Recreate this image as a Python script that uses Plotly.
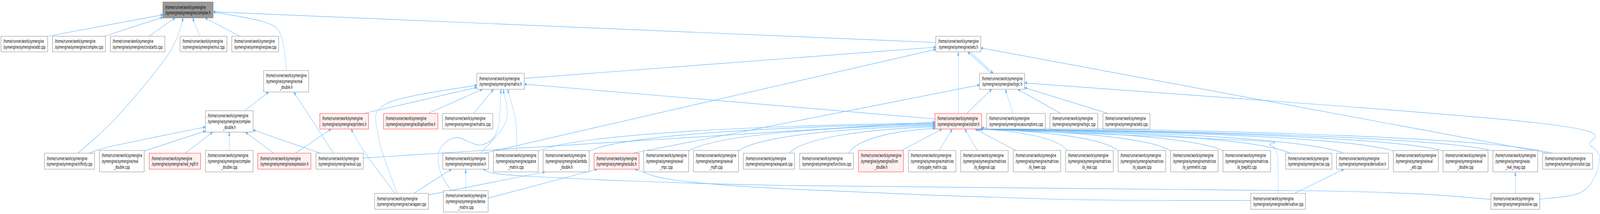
import plotly.graph_objects as go

W, H = 7889, 549
PREFIX = "/home/runner/work/symengine"

# ---------------- data: nodes (file names) ----------------
node_ids = [
    "complex_h", "add_cpp", "complex_cpp", "constants_cpp", "mul_cpp", "pow_cpp", "sets_h",
    "real_double_h", "matrix_h", "logic_h",
    "complex_double_h", "printers_h", "diophantine_h", "matrix_cpp", "visitor_h",
    "assumptions_cpp", "logic_cpp", "sets_cpp",
    "infinity_cpp", "real_double_cpp", "real_mpfr_h", "complex_double_cpp", "expression_h",
    "eval_cpp", "solve_h", "sparse_matrix_cpp", "lambda_double_h", "subs_h", "eval_mpc_cpp",
    "eval_mpfr_cpp", "expand_cpp", "functions_cpp", "llvm_double_h", "conjugate_matrix_cpp",
    "is_diagonal_cpp", "is_lower_cpp", "is_real_cpp", "is_square_cpp", "is_symmetric_cpp",
    "is_toeplitz_cpp", "cse_cpp", "derivative_h", "eval_arb_cpp", "eval_double_cpp",
    "as_real_imag_cpp", "visitor_cpp",
    "cwrapper_cpp", "dense_matrix_cpp", "derivative_cpp", "solve_cpp",
]

# label lines after the common first line PREFIX
node_lines = {
    "complex_h": ["/symengine/symengine/complex.h"],
    "add_cpp": ["/symengine/symengine/add.cpp"],
    "complex_cpp": ["/symengine/symengine/complex.cpp"],
    "constants_cpp": ["/symengine/symengine/constants.cpp"],
    "mul_cpp": ["/symengine/symengine/mul.cpp"],
    "pow_cpp": ["/symengine/symengine/pow.cpp"],
    "sets_h": ["/symengine/symengine/sets.h"],
    "real_double_h": ["/symengine/symengine/real", "_double.h"],
    "matrix_h": ["/symengine/symengine/matrix.h"],
    "logic_h": ["/symengine/symengine/logic.h"],
    "complex_double_h": ["/symengine/symengine/complex", "_double.h"],
    "printers_h": ["/symengine/symengine/printers.h"],
    "diophantine_h": ["/symengine/symengine/diophantine.h"],
    "matrix_cpp": ["/symengine/symengine/matrix.cpp"],
    "visitor_h": ["/symengine/symengine/visitor.h"],
    "assumptions_cpp": ["/symengine/symengine/assumptions.cpp"],
    "logic_cpp": ["/symengine/symengine/logic.cpp"],
    "sets_cpp": ["/symengine/symengine/sets.cpp"],
    "infinity_cpp": ["/symengine/symengine/infinity.cpp"],
    "real_double_cpp": ["/symengine/symengine/real", "_double.cpp"],
    "real_mpfr_h": ["/symengine/symengine/real_mpfr.h"],
    "complex_double_cpp": ["/symengine/symengine/complex", "_double.cpp"],
    "expression_h": ["/symengine/symengine/expression.h"],
    "eval_cpp": ["/symengine/symengine/eval.cpp"],
    "solve_h": ["/symengine/symengine/solve.h"],
    "sparse_matrix_cpp": ["/symengine/symengine/sparse", "_matrix.cpp"],
    "lambda_double_h": ["/symengine/symengine/lambda", "_double.h"],
    "subs_h": ["/symengine/symengine/subs.h"],
    "eval_mpc_cpp": ["/symengine/symengine/eval", "_mpc.cpp"],
    "eval_mpfr_cpp": ["/symengine/symengine/eval", "_mpfr.cpp"],
    "expand_cpp": ["/symengine/symengine/expand.cpp"],
    "functions_cpp": ["/symengine/symengine/functions.cpp"],
    "llvm_double_h": ["/symengine/symengine/llvm", "_double.h"],
    "conjugate_matrix_cpp": ["/symengine/symengine/matrices", "/conjugate_matrix.cpp"],
    "is_diagonal_cpp": ["/symengine/symengine/matrices", "/is_diagonal.cpp"],
    "is_lower_cpp": ["/symengine/symengine/matrices", "/is_lower.cpp"],
    "is_real_cpp": ["/symengine/symengine/matrices", "/is_real.cpp"],
    "is_square_cpp": ["/symengine/symengine/matrices", "/is_square.cpp"],
    "is_symmetric_cpp": ["/symengine/symengine/matrices", "/is_symmetric.cpp"],
    "is_toeplitz_cpp": ["/symengine/symengine/matrices", "/is_toeplitz.cpp"],
    "cse_cpp": ["/symengine/symengine/cse.cpp"],
    "derivative_h": ["/symengine/symengine/derivative.h"],
    "eval_arb_cpp": ["/symengine/symengine/eval", "_arb.cpp"],
    "eval_double_cpp": ["/symengine/symengine/eval", "_double.cpp"],
    "as_real_imag_cpp": ["/symengine/symengine/as", "_real_imag.cpp"],
    "visitor_cpp": ["/symengine/symengine/visitor.cpp"],
    "cwrapper_cpp": ["/symengine/symengine/cwrapper.cpp"],
    "dense_matrix_cpp": ["/symengine/symengine/dense", "_matrix.cpp"],
    "derivative_cpp": ["/symengine/symengine/derivative.cpp"],
    "solve_cpp": ["/symengine/symengine/solve.cpp"],
}

root_node = "complex_h"
truncated_nodes = ["real_mpfr_h", "expression_h", "printers_h", "diophantine_h",
                   "subs_h", "visitor_h", "llvm_double_h"]

# "included by" relations: (includer, included)
edges = [
    ("add_cpp", "complex_h"), ("complex_cpp", "complex_h"), ("constants_cpp", "complex_h"),
    ("infinity_cpp", "complex_h"), ("mul_cpp", "complex_h"), ("pow_cpp", "complex_h"),
    ("real_double_h", "complex_h"), ("sets_h", "complex_h"),
    ("infinity_cpp", "complex_double_h"), ("real_double_cpp", "complex_double_h"),
    ("real_mpfr_h", "complex_double_h"), ("complex_double_cpp", "complex_double_h"),
    ("expression_h", "complex_double_h"), ("eval_cpp", "complex_double_h"),
    ("complex_double_h", "real_double_h"), ("eval_cpp", "real_double_h"),
    ("expression_h", "printers_h"), ("cwrapper_cpp", "printers_h"),
    ("printers_h", "matrix_h"), ("cwrapper_cpp", "matrix_h"), ("diophantine_h", "matrix_h"),
    ("matrix_cpp", "matrix_h"), ("solve_h", "matrix_h"), ("dense_matrix_cpp", "matrix_h"),
    ("sparse_matrix_cpp", "matrix_h"), ("visitor_h", "matrix_h"),
    ("matrix_h", "sets_h"), ("solve_h", "sets_h"), ("visitor_h", "sets_h"),
    ("logic_h", "sets_h"), ("visitor_cpp", "sets_h"),
    ("sets_h", "logic_h"), ("subs_h", "logic_h"), ("visitor_h", "logic_h"),
    ("assumptions_cpp", "logic_h"), ("logic_cpp", "logic_h"), ("sets_cpp", "logic_h"),
    ("solve_cpp", "logic_h"),
    ("eval_cpp", "visitor_h"), ("sparse_matrix_cpp", "visitor_h"),
    ("lambda_double_h", "visitor_h"), ("eval_mpc_cpp", "visitor_h"),
    ("eval_mpfr_cpp", "visitor_h"), ("expand_cpp", "visitor_h"),
    ("functions_cpp", "visitor_h"), ("llvm_double_h", "visitor_h"),
    ("conjugate_matrix_cpp", "visitor_h"), ("is_diagonal_cpp", "visitor_h"),
    ("is_lower_cpp", "visitor_h"), ("is_real_cpp", "visitor_h"),
    ("is_square_cpp", "visitor_h"), ("is_symmetric_cpp", "visitor_h"),
    ("is_toeplitz_cpp", "visitor_h"), ("cse_cpp", "visitor_h"),
    ("derivative_h", "visitor_h"), ("eval_arb_cpp", "visitor_h"),
    ("eval_double_cpp", "visitor_h"), ("as_real_imag_cpp", "visitor_h"),
    ("visitor_cpp", "visitor_h"), ("derivative_cpp", "visitor_h"),
    ("cwrapper_cpp", "solve_h"), ("dense_matrix_cpp", "solve_h"), ("solve_cpp", "solve_h"),
    ("dense_matrix_cpp", "subs_h"), ("derivative_cpp", "subs_h"),
    ("cwrapper_cpp", "lambda_double_h"), ("derivative_cpp", "derivative_h"),
    ("solve_cpp", "as_real_imag_cpp"),
]

# ---------------- layout (graph drawing positions) ----------------
ROW_E2 = (393, 434)
ROW_E3 = (386, 441)
BOX = {
    "complex_h": (803, 1051, 5, 46),
    "add_cpp": (5, 235, 93, 133), "complex_cpp": (259, 520, 93, 133),
    "constants_cpp": (544, 813, 93, 133), "mul_cpp": (888, 1119, 93, 133),
    "pow_cpp": (1143, 1374, 93, 133), "sets_h": (4614, 4836, 93, 133),
    "real_double_h": (1300, 1522, 181, 236), "matrix_h": (2351, 2585, 188, 229),
    "logic_h": (4830, 5052, 188, 229),
    "complex_double_h": (1013, 1248, 284, 339), "printers_h": (1577, 1817, 291, 331),
    "diophantine_h": (1891, 2159, 291, 331), "matrix_cpp": (2182, 2430, 291, 331),
    "visitor_h": (4610, 4840, 291, 331), "assumptions_cpp": (4865, 5154, 291, 331),
    "logic_cpp": (5177, 5413, 291, 331), "sets_cpp": (5438, 5670, 291, 331),
    "cwrapper_cpp": (1847, 2112, 496, 537), "dense_matrix_cpp": (2186, 2407, 489, 544),
    "derivative_cpp": (6167, 6437, 496, 537), "solve_cpp": (7351, 7592, 496, 537),
}
ROW_E_X = {
    "infinity_cpp": (219, 466), "real_double_cpp": (490, 711), "real_mpfr_h": (736, 989),
    "complex_double_cpp": (1013, 1248), "expression_h": (1271, 1533), "eval_cpp": (1558, 1791),
    "solve_h": (2183, 2409), "sparse_matrix_cpp": (2433, 2654), "lambda_double_h": (2678, 2905),
    "subs_h": (2929, 3151), "eval_mpc_cpp": (3174, 3396), "eval_mpfr_cpp": (3419, 3641),
    "expand_cpp": (3665, 3918), "functions_cpp": (3943, 4208), "llvm_double_h": (4233, 4454),
    "conjugate_matrix_cpp": (4479, 4713), "is_diagonal_cpp": (4737, 4971),
    "is_lower_cpp": (4996, 5230), "is_real_cpp": (5254, 5489), "is_square_cpp": (5513, 5748),
    "is_symmetric_cpp": (5772, 6006), "is_toeplitz_cpp": (6030, 6265), "cse_cpp": (6339, 6567),
    "derivative_h": (6590, 6846), "eval_arb_cpp": (6870, 7092), "eval_double_cpp": (7115, 7337),
    "as_real_imag_cpp": (7361, 7582), "visitor_cpp": (7606, 7852),
}
for k, (a, b) in ROW_E_X.items():
    ys = ROW_E3 if len(node_lines[k]) == 2 else ROW_E2
    BOX[k] = (a, b, ys[0], ys[1])

# edge geometry: (source port, target port, style, via points)
GEOM = {
    ("add_cpp", "complex_h"): ((1.0, 0), (0, 0.8), "line", None),
    ("complex_cpp", "complex_h"): ((0.98, 0), (0, 0.96), "line", None),
    ("constants_cpp", "complex_h"): ((0.71, 0), (0.24, 1), "line", None),
    ("infinity_cpp", "complex_h"): ((0.67, 0), (0.41, 1), "via", [(580, 298), (829, 140)]),
    ("mul_cpp", "complex_h"): ((0.42, 0), (0.59, 1), "line", None),
    ("pow_cpp", "complex_h"): ((0.17, 0), (0.84, 1), "line", None),
    ("real_double_h", "complex_h"): ((0.51, 0), (1.0, 0.62), "via", [(1383, 88), (1300, 56)]),
    ("sets_h", "complex_h"): ((0, 0.4), (1.0, 0.62), "line", None),
    ("infinity_cpp", "complex_double_h"): ((0.89, 0), (0, 0.76), "via", [(560, 374)]),
    ("real_double_cpp", "complex_double_h"): ((1.0, 0.03), (0, 0.95), "line", None),
    ("real_mpfr_h", "complex_double_h"): ((0.70, 0), (0.15, 1), "line", None),
    ("complex_double_cpp", "complex_double_h"): ((0.5, 0), (0.5, 1), "line", None),
    ("expression_h", "complex_double_h"): ((0.30, 0), (0.84, 1), "line", None),
    ("eval_cpp", "complex_double_h"): ((0.09, 0), (1.0, 0.9), "line", None),
    ("complex_double_h", "real_double_h"): ((0.82, 0), (0.11, 1), "line", None),
    ("eval_cpp", "real_double_h"): ((0.37, 0), (0.67, 1), "line", None),
    ("expression_h", "printers_h"): ((0.71, 0), (0.23, 1), "line", None),
    ("cwrapper_cpp", "printers_h"): ((0.38, 0), (0.64, 1), "via", [(1800, 392)]),
    ("printers_h", "matrix_h"): ((0.91, 0), (0, 0.88), "line", None),
    ("cwrapper_cpp", "matrix_h"): ((0.42, 0), (0, 0.74), "via", [(1866, 350), (1905, 266)]),
    ("diophantine_h", "matrix_h"): ((0.82, 0), (0.12, 1), "line", None),
    ("matrix_cpp", "matrix_h"): ((0.62, 0), (0.35, 1), "line", None),
    ("solve_h", "matrix_h"): ((0.83, 0), (0.56, 1), "via", [(2495, 311)]),
    ("dense_matrix_cpp", "matrix_h"): ((0.17, 0), (0.51, 1), "via",
                                       [(2170, 439), (2167, 385), (2247, 353), (2371, 372), (2452, 335)]),
    ("sparse_matrix_cpp", "matrix_h"): ((0.52, 0), (0.65, 1), "via", [(2543, 311)]),
    ("visitor_h", "matrix_h"): ((0, 0.35), (1.0, 0.68), "line", None),
    ("matrix_h", "sets_h"): ((1.0, 0.32), (0, 0.7), "line", None),
    ("solve_h", "sets_h"): ((0.9, 0), (0, 0.84), "line", None),
    ("visitor_h", "sets_h"): ((0.5, 0), (0.5, 1), "line", None),
    ("logic_h", "sets_h"): ((0.26, 0), (0.71, 1), "line", None),
    ("visitor_cpp", "sets_h"): ((0.12, 0), (1.0, 0.75), "line", None),
    ("sets_h", "logic_h"): ((0.77, 1), (0.30, 0), "line", None),
    ("subs_h", "logic_h"): ((0.87, 0), (0, 0.73), "line", None),
    ("visitor_h", "logic_h"): ((0.68, 0), (0.27, 1), "line", None),
    ("assumptions_cpp", "logic_h"): ((0.45, 0), (0.57, 1), "line", None),
    ("logic_cpp", "logic_h"): ((0.22, 0), (0.85, 1), "line", None),
    ("sets_cpp", "logic_h"): ((0.11, 0), (1.0, 0.9), "line", None),
    ("solve_cpp", "logic_h"): ((1.0, 0.37), (1.0, 0.6), "via",
                               [(7800, 492), (7882, 425), (7845, 375), (7575, 315)]),
    ("eval_cpp", "visitor_h"): ((1.0, 0.3), (0, 0.55), "line", None),
    ("sparse_matrix_cpp", "visitor_h"): ((1.0, 0.02), (0, 0.62), "arc", None),
    ("lambda_double_h", "visitor_h"): ((1.0, 0.03), (0, 0.68), "arc", None),
    ("eval_mpc_cpp", "visitor_h"): ((1.0, 0.03), (0, 0.73), "arc", None),
    ("eval_mpfr_cpp", "visitor_h"): ((1.0, 0.03), (0, 0.79), "arc", None),
    ("expand_cpp", "visitor_h"): ((0.89, 0), (0, 0.86), "arc", None),
    ("functions_cpp", "visitor_h"): ((0.91, 0), (0, 0.96), "arc", None),
    ("llvm_double_h", "visitor_h"): ((0.96, 0), (0.15, 1), "line", None),
    ("conjugate_matrix_cpp", "visitor_h"): ((0.65, 0), (0.37, 1), "line", None),
    ("is_diagonal_cpp", "visitor_h"): ((0.35, 0), (0.64, 1), "line", None),
    ("is_lower_cpp", "visitor_h"): ((0.05, 0), (0.86, 1), "line", None),
    ("is_real_cpp", "visitor_h"): ((0.03, 0), (0.90, 1), "arc", None),
    ("is_square_cpp", "visitor_h"): ((0.0, 0.02), (0.91, 1), "arc", None),
    ("is_symmetric_cpp", "visitor_h"): ((0.0, 0.02), (0.92, 1), "arc", None),
    ("is_toeplitz_cpp", "visitor_h"): ((0.0, 0.02), (0.93, 1), "arc", None),
    ("cse_cpp", "visitor_h"): ((0.1, 0), (0.94, 1), "arc", None),
    ("derivative_h", "visitor_h"): ((0.14, 0), (0.95, 1), "arc", None),
    ("eval_arb_cpp", "visitor_h"): ((0.0, 0.02), (0.96, 1), "arc", None),
    ("eval_double_cpp", "visitor_h"): ((0.0, 0.02), (0.97, 1), "arc", None),
    ("as_real_imag_cpp", "visitor_h"): ((0.0, 0.02), (0.98, 1), "arc", None),
    ("visitor_cpp", "visitor_h"): ((0.2, 0), (1.0, 0.92), "arc", None),
    ("derivative_cpp", "visitor_h"): ((0.5, 0), (0.89, 1), "via", [(6298, 400), (6262, 372), (6150, 360)]),
    ("cwrapper_cpp", "solve_h"): ((0.73, 0), (0.19, 1), "line", None),
    ("dense_matrix_cpp", "solve_h"): ((0.5, 0), (0.5, 1), "line", None),
    ("solve_cpp", "solve_h"): ((0, 0.37), (0.88, 1), "via", [(6550, 490), (3900, 476), (2600, 452)]),
    ("dense_matrix_cpp", "subs_h"): ((1.0, 0.35), (0.07, 1), "line", None),
    ("derivative_cpp", "subs_h"): ((0, 0.45), (0.91, 1), "via", [(5200, 511), (3900, 485), (3330, 462)]),
    ("cwrapper_cpp", "lambda_double_h"): ((1.0, 0.1), (0.04, 1), "line", None),
    ("derivative_cpp", "derivative_h"): ((0.8, 0), (0.14, 1), "line", None),
    ("solve_cpp", "as_real_imag_cpp"): ((0.5, 0), (0.5, 1), "line", None),
}

EDGE_COLOR = "#63B8FF"
FONT = "DejaVu Sans"
FS = 13
LINE_GAP = 14.6
PAD = 10


def port(node, f):
    x0, x1, y0, y1 = BOX[node]
    return (x0 + f[0] * (x1 - x0), y0 + f[1] * (y1 - y0))


def segments(p0, p3, style, via):
    """Return list of cubic bezier segments [(a, c1, c2, b), ...]."""
    if style == "line":
        c1 = (p0[0] + (p3[0] - p0[0]) / 3, p0[1] + (p3[1] - p0[1]) / 3)
        c2 = (p0[0] + 2 * (p3[0] - p0[0]) / 3, p0[1] + 2 * (p3[1] - p0[1]) / 3)
        return [(p0, c1, c2, p3)]
    if style == "arc":
        dx, dy = p3[0] - p0[0], p3[1] - p0[1]
        c1 = (p0[0] + 0.1 * dx, p0[1] + 0.6 * dy)
        c2 = (p3[0] - 0.45 * dx, p3[1] - 0.08 * dy)
        return [(p0, c1, c2, p3)]
    pts = [p0] + list(via) + [p3]
    ext = [pts[0]] + pts + [pts[-1]]
    segs = []
    for i in range(1, len(ext) - 2):
        a, b = ext[i], ext[i + 1]
        pa, nb = ext[i - 1], ext[i + 2]
        c1 = (a[0] + (b[0] - pa[0]) / 6, a[1] + (b[1] - pa[1]) / 6)
        c2 = (b[0] - (nb[0] - a[0]) / 6, b[1] - (nb[1] - a[1]) / 6)
        segs.append((a, c1, c2, b))
    return segs


shapes = []
# edges
for (s, t) in edges:
    sp, tp, style, via = GEOM[(s, t)]
    p0 = port(s, sp)
    p3 = port(t, tp)
    segs = segments(p0, p3, style, via)
    d = "M %.1f,%.1f" % segs[0][0]
    for (_, c1, c2, b) in segs:
        d += " C %.1f,%.1f %.1f,%.1f %.1f,%.1f" % (c1 + c2 + b)
    shapes.append(dict(type="path", path=d, xref="x", yref="y",
                       line=dict(color=EDGE_COLOR, width=1.2), layer="below"))
    # arrow head
    c2, tip = segs[-1][2], segs[-1][3]
    vx, vy = tip[0] - c2[0], tip[1] - c2[1]
    n = (vx * vx + vy * vy) ** 0.5 or 1.0
    ux, uy = vx / n, vy / n
    L, hw = 10.0, 3.8
    bx, by = tip[0] - ux * L, tip[1] - uy * L
    a1 = (bx - uy * hw, by + ux * hw)
    a2 = (bx + uy * hw, by - ux * hw)
    ah = "M %.1f,%.1f L %.1f,%.1f L %.1f,%.1f Z" % (tip + a1 + a2)
    shapes.append(dict(type="path", path=ah, xref="x", yref="y",
                       fillcolor=EDGE_COLOR, line=dict(color=EDGE_COLOR, width=1), layer="below"))

# boxes and labels
annotations = []
for nid in node_ids:
    x0, x1, y0, y1 = BOX[nid]
    if nid == root_node:
        fill, border = "#999999", "#666666"
    elif nid in truncated_nodes:
        fill, border = "#FFF0F0", "#FF0000"
    else:
        fill, border = "#FFFFFF", "#666666"
    shapes.append(dict(type="rect", x0=x0, x1=x1, y0=y0, y1=y1, xref="x", yref="y",
                       fillcolor=fill, line=dict(color=border, width=1), layer="above"))
    lines = [PREFIX] + node_lines[nid]
    nl = len(lines)
    cy = (y0 + y1) / 2
    for i, txt in enumerate(lines):
        ly = cy + (i - (nl - 1) / 2) * LINE_GAP
        last = i == nl - 1
        annotations.append(dict(
            x=(x0 + x1) / 2 if last else x0 + PAD, y=ly, xref="x", yref="y",
            text=txt, showarrow=False, xanchor="center" if last else "left",
            yanchor="middle", font=dict(family=FONT, size=FS, color="black"),
            borderpad=0))

fig = go.Figure()
fig.add_trace(go.Scatter(
    x=[(BOX[n][0] + BOX[n][1]) / 2 for n in node_ids],
    y=[(BOX[n][2] + BOX[n][3]) / 2 for n in node_ids],
    mode="markers", marker=dict(opacity=0, size=1), hoverinfo="skip", showlegend=False))
fig.update_layout(
    width=W, height=H, margin=dict(l=0, r=0, t=0, b=0),
    paper_bgcolor="white", plot_bgcolor="white",
    xaxis=dict(range=[0, W], visible=False, fixedrange=True),
    yaxis=dict(range=[H, 0], visible=False, fixedrange=True),
    shapes=shapes, annotations=annotations, showlegend=False)

# keep the whole 7889x549 drawing inside the browser viewport even if the
# window ends up narrower than requested (identity when it is full size)
fit_js = """
var gd = document.getElementById('{plot_id}');
document.documentElement.style.margin = '0';
document.body.style.margin = '0';
document.documentElement.style.overflow = 'hidden';
document.body.style.overflow = 'hidden';
var sx = Math.min(1, window.innerWidth / %d);
var sy = Math.min(1, window.innerHeight / %d);
gd.style.transformOrigin = '0 0';
gd.style.transform = 'scale(' + sx + ',' + sy + ')';
""" % (W, H)
fig.write_html("out.html", post_script=fit_js, config={"displayModeBar": False})
